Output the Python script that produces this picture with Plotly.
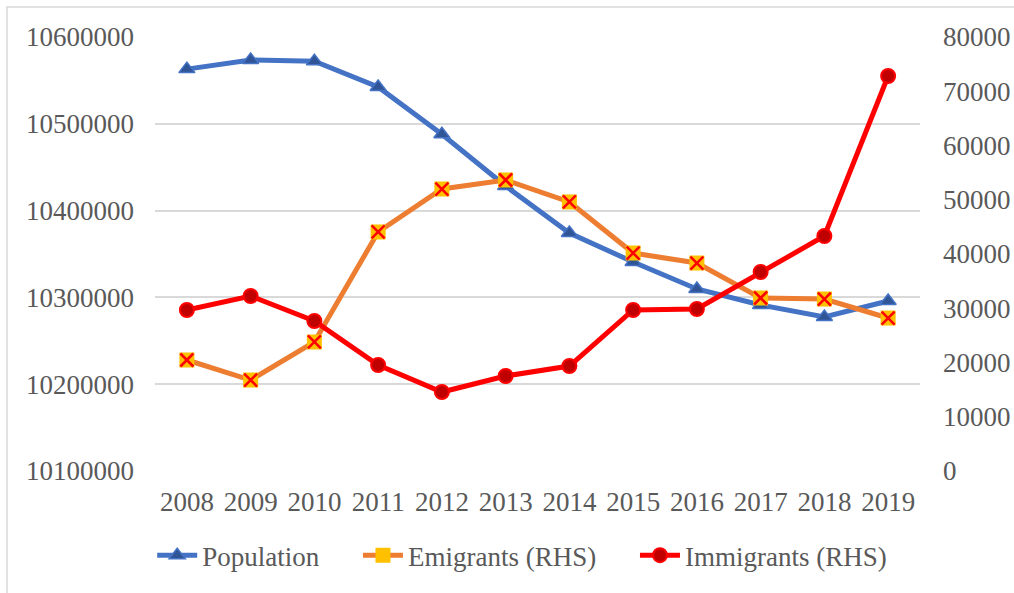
import plotly.graph_objects as go

years = ["2008", "2009", "2010", "2011", "2012", "2013", "2014", "2015", "2016", "2017", "2018", "2019"]
population = [10563000, 10573500, 10572000, 10542400, 10488000, 10428300, 10374200, 10340800, 10309700, 10291300, 10277400, 10295900]
emigrants = [20460, 16770, 23780, 44060, 51980, 53640, 49590, 40180, 38340, 31890, 31700, 28200]
immigrants = [29680, 32260, 27650, 19540, 14560, 17510, 19350, 29680, 29860, 36680, 43320, 72810]

left_ticks = [10100000, 10200000, 10300000, 10400000, 10500000, 10600000]
right_ticks = [0, 10000, 20000, 30000, 40000, 50000, 60000, 70000, 80000]

FONT = "Liberation Serif"
GREY = "#595959"
FS = 27
PAD = "\u00a0" * 5

fig = go.Figure()
fig.add_trace(go.Scatter(
    x=years, y=population, name="Population" + PAD, mode="lines+markers",
    line=dict(color="#4472C4", width=5),
    marker=dict(symbol="triangle-up", size=14, color="#2F5597", line=dict(color="#4472C4", width=1.5)),
    yaxis="y",
))
fig.add_trace(go.Scatter(
    x=years, y=emigrants, name="Emigrants (RHS)" + PAD, mode="lines+markers",
    line=dict(color="#ED7D31", width=5),
    marker=dict(symbol="square", size=15, color="#FFC000", line=dict(color="#FFC000", width=0)),
    yaxis="y2", legendgroup="emi",
))
fig.add_trace(go.Scatter(
    x=years, y=emigrants, name="Emigrants (RHS)", mode="markers", showlegend=False,
    marker=dict(symbol="x-thin-open", size=13, color="#FF0000", line=dict(color="#FF0000", width=2.5)),
    yaxis="y2", legendgroup="emi", hoverinfo="skip",
))
fig.add_trace(go.Scatter(
    x=years, y=immigrants, name="Immigrants (RHS)", mode="lines+markers",
    line=dict(color="#FF0000", width=5),
    marker=dict(symbol="circle", size=14, color="#C00000", line=dict(color="#FF0000", width=2)),
    yaxis="y2",
))

fig.update_layout(
    width=1014, height=593,
    margin=dict(l=155, r=94, t=37, b=122, autoexpand=False),
    paper_bgcolor="white", plot_bgcolor="white",
    font=dict(family=FONT, size=FS, color=GREY),
    xaxis=dict(type="category", range=[-0.5, 11.5], showgrid=False, zeroline=False,
               showline=False, ticks="", ticklabelstandoff=12, automargin=False,
               tickfont=dict(family=FONT, size=FS, color=GREY)),
    yaxis=dict(range=[10100000, 10600000], tickvals=left_ticks,
               ticktext=[str(v) for v in left_ticks], automargin=False,
               showgrid=True, gridcolor="#D9D9D9", gridwidth=1.5, zeroline=False,
               showline=False, ticks="", ticklabelstandoff=20,
               tickfont=dict(family=FONT, size=FS, color=GREY)),
    yaxis2=dict(range=[0, 80000], tickvals=right_ticks,
                ticktext=[str(v) for v in right_ticks], automargin=False,
                overlaying="y", side="right", showgrid=False, zeroline=False,
                showline=False, ticks="", ticklabelstandoff=22,
                tickfont=dict(family=FONT, size=FS, color=GREY)),
    legend=dict(orientation="h", x=0.48, xanchor="center", y=-0.195, yanchor="middle",
                font=dict(family=FONT, size=FS, color=GREY),
                bgcolor="rgba(0,0,0,0)", itemwidth=40, traceorder="normal"),
    showlegend=True,
    shapes=[dict(type="rect", xref="paper", yref="paper",
                 x0=(7 - 155) / 765, x1=1.25, y0=-0.5, y1=(471 - 7) / 434,
                 line=dict(color="#D9D9D9", width=1.5), fillcolor="rgba(0,0,0,0)", layer="below")],
)

fig.write_html("out.html")
